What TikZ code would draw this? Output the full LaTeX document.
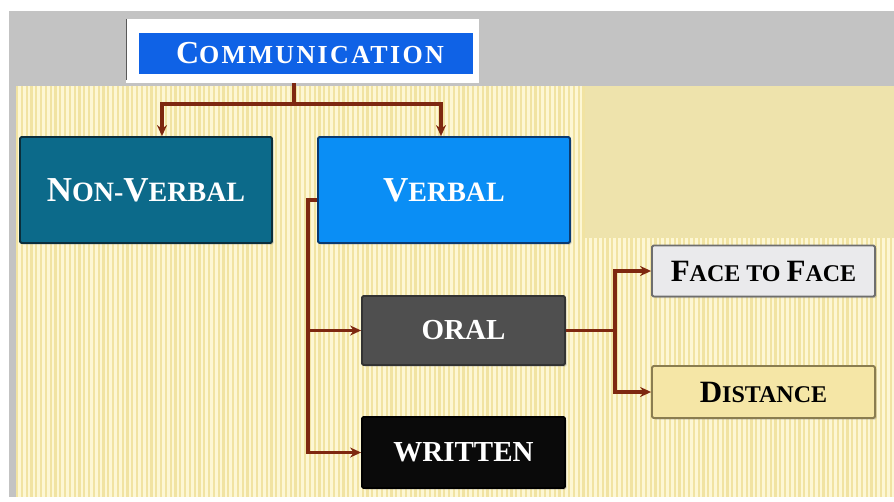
\documentclass[tikz,border=0pt]{standalone}
\usepackage{fontspec}
\setmainfont{Liberation Serif}
\usetikzlibrary{arrows.meta,shadows,calc}
\definecolor{bandgray}{HTML}{C3C3C3}
\definecolor{stripebase}{HTML}{FDF7D4}
\definecolor{stripedark}{HTML}{F1E3A2}
\definecolor{plainyel}{HTML}{EEE3AC}
\definecolor{commblue}{HTML}{0F62E6}
\definecolor{nvteal}{HTML}{0C6A8A}
\definecolor{nvedge}{HTML}{0A2E3C}
\definecolor{vbblue}{HTML}{0A8EF5}
\definecolor{vbedge}{HTML}{0A3A70}
\definecolor{oralgray}{HTML}{4F4F4F}
\definecolor{writblack}{HTML}{0A0A0A}
\definecolor{facegray}{HTML}{EAEAEC}
\definecolor{faceedge}{HTML}{6E6E6E}
\definecolor{distyel}{HTML}{F5E6A6}
\definecolor{distedge}{HTML}{8A7D50}
\definecolor{connred}{HTML}{7E2810}
\newcommand\fs[2]{{\fontsize{#1pt}{#1pt}\selectfont #2}}
\tikzset{
  boxbase/.style={rectangle, rounded corners=1.5pt, line width=1.8pt, inner sep=0pt,
    font=\bfseries, drop shadow={opacity=0.35, shadow xshift=1.5pt, shadow yshift=-1.5pt}},
  conn/.style={draw=connred, line width=3.2pt},
  arr/.style={conn, -{Stealth[length=11pt,width=10pt]}},
}
\begin{document}
\begin{tikzpicture}[x=1pt,y=-1pt]
\useasboundingbox (0,0) rectangle (894,501);
\fill[white] (0,0) rectangle (894,501);
% gray band
\fill[bandgray] (9,11) rectangle (894,86);
\fill[bandgray] (9,86) rectangle (16,497);
% striped area
\fill[stripebase] (16,86) rectangle (894,497);
\begin{scope}
\clip (16,86) rectangle (894,497);
\foreach \x in {17,21.8,...,894} { \draw[stripedark, line width=2.2pt] (\x,86) -- (\x,497); }
\end{scope}
\fill[plainyel] (585,86) rectangle (894,238);
% white frame of title
\fill[white] (126,19) rectangle (479,83);
\draw[black!65, line width=1.2pt] (126.6,19) -- (126.6,80);
\node[rectangle, fill=commblue, minimum width=334pt, minimum height=41pt, inner sep=0pt,
  text=white, font=\bfseries\addfontfeature{LetterSpace=9}] (comm) at (306,53.5)
  {\hspace*{8pt}\fs{32}{C}\fs{26}{OMMUNICATION}};
\coordinate (wb) at (294,83);
% level 1
\node[boxbase, fill=nvteal, draw=nvedge, minimum width=252pt, minimum height=106pt, text=white]
  (nv) at (146,190) {\fs{35}{N}\fs{28}{ON-}\fs{35}{V}\fs{28}{ERBAL}};
\node[boxbase, fill=vbblue, draw=vbedge, minimum width=252pt, minimum height=106pt, text=white]
  (vb) at (444,190) {\fs{35}{V}\fs{28}{ERBAL}};
% level 2
\node[boxbase, fill=oralgray, draw=black!80, minimum width=203pt, minimum height=69pt, text=white]
  (or) at (463.5,330.5) {\fs{29}{ORAL}};
\node[boxbase, fill=writblack, draw=black, minimum width=203pt, minimum height=71pt, text=white]
  (wr) at (463.5,452.5) {\fs{29}{WRITTEN}};
% level 3
\node[boxbase, fill=facegray, draw=faceedge, minimum width=223pt, minimum height=51pt, text=black]
  (ff) at (763.5,271) {\fs{31}{F}\fs{24}{ACE TO }\fs{31}{F}\fs{24}{ACE}};
\node[boxbase, fill=distyel, draw=distedge, minimum width=223pt, minimum height=52pt, text=black]
  (ds) at (763.5,392) {\fs{31}{D}\fs{24}{ISTANCE}};
% connectors
\coordinate (j1) at (294,104);
\draw[conn] (wb) -- (j1);
\draw[arr] (j1) -| ([xshift=16pt]nv.north);
\draw[arr] (j1) -| ([xshift=-3pt]vb.north);
\coordinate (v3) at (308,452.5);
\coordinate (v2) at (308,330.5);
\draw[arr] ([yshift=-10pt]vb.west) -| (v3) -- (wr.west);
\draw[arr] (v2) -- (or.west);
\coordinate (o1) at (615,330.5);
\draw[conn] (or.east) -- (o1);
\draw[arr] (o1) |- (ff.west);
\draw[arr] (o1) |- (ds.west);
\end{tikzpicture}
\end{document}
